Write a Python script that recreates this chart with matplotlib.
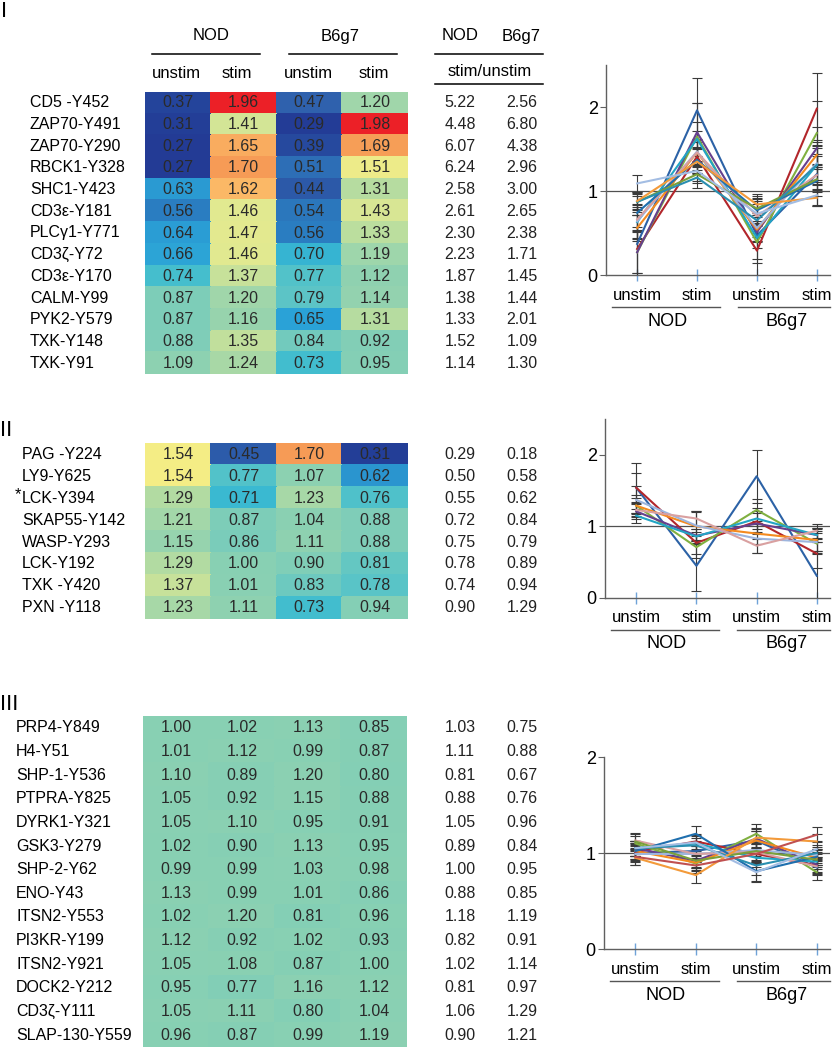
import numpy as np
import matplotlib
matplotlib.use("Agg")
import matplotlib.pyplot as plt
from matplotlib.colors import LinearSegmentedColormap
from matplotlib.transforms import blended_transform_factory

plt.rcParams['font.family'] = ['Liberation Sans', 'DejaVu Sans']

W, H = 836, 1050

conditions = ['unstim', 'stim', 'unstim', 'stim']
strains = ['NOD', 'B6g7']

# cluster I
names_1 = ['CD5 -Y452', 'ZAP70-Y491', 'ZAP70-Y290', 'RBCK1-Y328', 'SHC1-Y423',
           'CD3ε-Y181', 'PLCγ1-Y771', 'CD3ζ-Y72', 'CD3ε-Y170', 'CALM-Y99',
           'PYK2-Y579', 'TXK-Y148', 'TXK-Y91']
vals_1 = [[0.37, 1.96, 0.47, 1.20], [0.31, 1.41, 0.29, 1.98], [0.27, 1.65, 0.39, 1.69],
          [0.27, 1.70, 0.51, 1.51], [0.63, 1.62, 0.44, 1.31], [0.56, 1.46, 0.54, 1.43],
          [0.64, 1.47, 0.56, 1.33], [0.66, 1.46, 0.70, 1.19], [0.74, 1.37, 0.77, 1.12],
          [0.87, 1.20, 0.79, 1.14], [0.87, 1.16, 0.65, 1.31], [0.88, 1.35, 0.84, 0.92],
          [1.09, 1.24, 0.73, 0.95]]
ratio_1 = [[5.22, 2.56], [4.48, 6.80], [6.07, 4.38], [6.24, 2.96], [2.58, 3.00],
           [2.61, 2.65], [2.30, 2.38], [2.23, 1.71], [1.87, 1.45], [1.38, 1.44],
           [1.33, 2.01], [1.52, 1.09], [1.14, 1.30]]
err_1 = [[0.35, 0.38, 0.15, 0.12], [0.40, 0.10, 0.30, 0.43], [0.30, 0.40, 0.20, 0.38],
         [0.25, 0.35, 0.10, 0.25], [0.20, 0.20, 0.30, 0.20], [0.15, 0.15, 0.15, 0.15],
         [0.20, 0.15, 0.15, 0.20], [0.15, 0.25, 0.20, 0.25], [0.20, 0.15, 0.15, 0.30],
         [0.10, 0.10, 0.15, 0.15], [0.12, 0.12, 0.20, 0.30], [0.10, 0.15, 0.12, 0.10],
         [0.10, 0.12, 0.15, 0.12]]

# cluster II
names_2 = ['PAG -Y224', 'LY9-Y625', '*LCK-Y394', 'SKAP55-Y142', 'WASP-Y293',
           'LCK-Y192', 'TXK -Y420', 'PXN -Y118']
vals_2 = [[1.54, 0.45, 1.70, 0.31], [1.54, 0.77, 1.07, 0.62], [1.29, 0.71, 1.23, 0.76],
          [1.21, 0.87, 1.04, 0.88], [1.15, 0.86, 1.11, 0.88], [1.29, 1.00, 0.90, 0.81],
          [1.37, 1.01, 0.83, 0.78], [1.23, 1.11, 0.73, 0.94]]
ratio_2 = [[0.29, 0.18], [0.50, 0.58], [0.55, 0.62], [0.72, 0.84], [0.75, 0.79],
           [0.78, 0.89], [0.74, 0.94], [0.90, 1.29]]
err_2 = [[0.35, 0.35, 0.37, 0.35], [0.20, 0.15, 0.15, 0.20], [0.10, 0.15, 0.15, 0.15],
         [0.10, 0.10, 0.15, 0.10], [0.10, 0.10, 0.15, 0.10], [0.15, 0.20, 0.15, 0.15],
         [0.20, 0.20, 0.20, 0.15], [0.10, 0.10, 0.10, 0.10]]

# cluster III
names_3 = ['PRP4-Y849', 'H4-Y51', 'SHP-1-Y536', 'PTPRA-Y825', 'DYRK1-Y321',
           'GSK3-Y279', 'SHP-2-Y62', 'ENO-Y43', 'ITSN2-Y553', 'PI3KR-Y199',
           'ITSN2-Y921', 'DOCK2-Y212', 'CD3ζ-Y111', 'SLAP-130-Y559']
vals_3 = [[1.00, 1.02, 1.13, 0.85], [1.01, 1.12, 0.99, 0.87], [1.10, 0.89, 1.20, 0.80],
          [1.05, 0.92, 1.15, 0.88], [1.05, 1.10, 0.95, 0.91], [1.02, 0.90, 1.13, 0.95],
          [0.99, 0.99, 1.03, 0.98], [1.13, 0.99, 1.01, 0.86], [1.02, 1.20, 0.81, 0.96],
          [1.12, 0.92, 1.02, 0.93], [1.05, 1.08, 0.87, 1.00], [0.95, 0.77, 1.16, 1.12],
          [1.05, 1.11, 0.80, 1.04], [0.96, 0.87, 0.99, 1.19]]
ratio_3 = [[1.03, 0.75], [1.11, 0.88], [0.81, 0.67], [0.88, 0.76], [1.05, 0.96],
           [0.89, 0.84], [1.00, 0.95], [0.88, 0.85], [1.18, 1.19], [0.82, 0.91],
           [1.02, 1.14], [0.81, 0.97], [1.06, 1.29], [0.90, 1.21]]
err_3 = [[0.08, 0.08, 0.10, 0.08]] * 14

line_colors = ['#2c62a6', '#b2262b', '#80b040', '#66408e', '#22a5c5', '#f48a1f',
               '#9db5de', '#d9a0a0', '#1f6fae', '#7a9f3a', '#2a8fb0', '#f39a3a',
               '#a3bde3', '#c05050']

anchors = [(0.27, '#233b95'), (0.37, '#24449b'), (0.47, '#2f62ae'), (0.56, '#2a7fc2'),
           (0.65, '#2aa2d7'), (0.72, '#3cbcd0'), (0.79, '#5ec5c5'), (0.87, '#7ecdb8'),
           (1.00, '#88d0b3'), (1.12, '#8fd1b0'), (1.20, '#a0d6aa'), (1.31, '#b6dca0'),
           (1.41, '#d3e596'), (1.47, '#e3e98f'), (1.54, '#f4ed85'), (1.62, '#fbb866'),
           (1.70, '#f69c56'), (1.96, '#ec2027'), (2.00, '#ec2027')]
VMIN, VMAX = 0.27, 2.0
cmap = LinearSegmentedColormap.from_list(
    'heat', [((v - VMIN) / (VMAX - VMIN), c) for v, c in anchors])

fig = plt.figure(figsize=(W / 100, H / 100), dpi=100)
lay = fig.add_axes([0, 0, 1, 1])
lay.set_xlim(0, W)
lay.set_ylim(H, 0)
lay.axis('off')


def box(x0, y0, x1, y1):
    return fig.add_axes([x0 / W, 1 - y1 / H, (x1 - x0) / W, (y1 - y0) / H])


def heatmap(x0, y0, x1, y1, names, vals, ratios, label_x, squeeze=1.0):
    ax = box(x0, y0, x1, y1)
    arr = np.array(vals)
    shown = 1 + squeeze * (arr - 1)
    ax.pcolormesh(np.arange(5), np.arange(len(names) + 1), shown, cmap=cmap,
                  vmin=VMIN, vmax=VMAX, edgecolors='face', linewidth=0.3)
    ax.set_xlim(0, 4)
    ax.set_ylim(len(names), 0)
    ax.axis('off')
    tr = blended_transform_factory(lay.transData, ax.transData)
    for i, name in enumerate(names):
        y = i + 0.5
        if name.startswith('*'):
            ax.text(label_x - 7, y - 0.15, '*', transform=tr, va='center', ha='left', fontsize=12)
            name = name[1:]
        ax.text(label_x, y, name, transform=tr, va='center', ha='left', fontsize=11.5)
        for j in range(4):
            ax.text(j + 0.5, y, '%.2f' % arr[i, j], ha='center', va='center',
                    fontsize=11.5, color='#2a2a2a')
        for k, xr in enumerate([460, 522]):
            ax.text(xr, y, '%.2f' % ratios[i][k], transform=tr, ha='center',
                    va='center', fontsize=11.5, color='#222222')
    return ax


def lineplot(x0, y0, x1, y1, vals, errs, ymax):
    ax = box(x0, y0, x1, y1)
    for i, (v, e) in enumerate(zip(vals, errs)):
        ax.errorbar(range(4), v, yerr=e, color=line_colors[i % len(line_colors)],
                    lw=1.5, ecolor='#3a3a3a', elinewidth=0.8, capsize=3.5,
                    capthick=0.8, zorder=3)
    ax.axhline(1, color='#505050', lw=0.9, zorder=2)
    ax.set_xlim(-0.52, 3.22)
    ax.set_ylim(0, ymax)
    for s in ['top', 'right']:
        ax.spines[s].set_visible(False)
    for s in ['left', 'bottom']:
        ax.spines[s].set_color('#606060')
        ax.spines[s].set_linewidth(1.0)
    ax.set_yticks([0, 1, 2])
    ax.tick_params(axis='y', direction='out', length=4, color='#606060',
                   labelsize=13, pad=2)
    ax.set_xticks(range(4))
    ax.set_xticklabels([])
    ax.tick_params(axis='x', direction='inout', length=8, color='#6fa3d8', width=1)
    ax.patch.set_alpha(0)
    tr = blended_transform_factory(ax.transData, lay.transData)
    for j, c in enumerate(conditions):
        lay.text(j, y1 + 20, c, transform=tr, ha='center', va='center', fontsize=12)
    for (a, b), s, xc in zip([(-0.42, 1.38), (1.68, 3.22)], strains, [0.5, 2.5]):
        lay.plot([a, b], [y1 + 32, y1 + 32], transform=tr, color='#555555', lw=1.0)
        lay.text(xc, y1 + 46, s, transform=tr, ha='center', va='center', fontsize=13)
    return ax


# header of the table
for x, s in zip([211, 340], strains):
    lay.text(x, 36, s, ha='center', va='center', fontsize=12)
for xa, xb in [(152, 260), (289, 397), (435, 543)]:
    lay.plot([xa, xb], [54, 54], color='black', lw=1.1)
for x, c in zip([176, 237, 308, 374], conditions):
    lay.text(x, 73, c, ha='center', va='center', fontsize=12)
for x, s in zip([460, 521], strains):
    lay.text(x, 36, s, ha='center', va='center', fontsize=12)
lay.text(490, 72, 'stim/unstim', ha='center', va='center', fontsize=12)
lay.plot([435, 543], [84, 84], color='black', lw=1.1)

lay.text(1, 1, 'I', ha='left', va='top', fontsize=16)
lay.text(0, 430, 'II', ha='left', va='center', fontsize=16)
lay.text(0, 704, 'III', ha='left', va='center', fontsize=16)

heatmap(145, 92, 408, 374, names_1, vals_1, ratio_1, 30)
heatmap(145, 443, 408, 619, names_2, vals_2, ratio_2, 22)
heatmap(143, 716, 407, 1047, names_3, vals_3, ratio_3, 16, squeeze=0.3)

lineplot(606, 65, 830, 275, vals_1, err_1, 2.5)
lineplot(605, 419, 830, 598, vals_2, err_2, 2.5)
lineplot(604, 757, 830, 949, vals_3, err_3, 2.0)

fig.savefig('out.png', dpi=100)
